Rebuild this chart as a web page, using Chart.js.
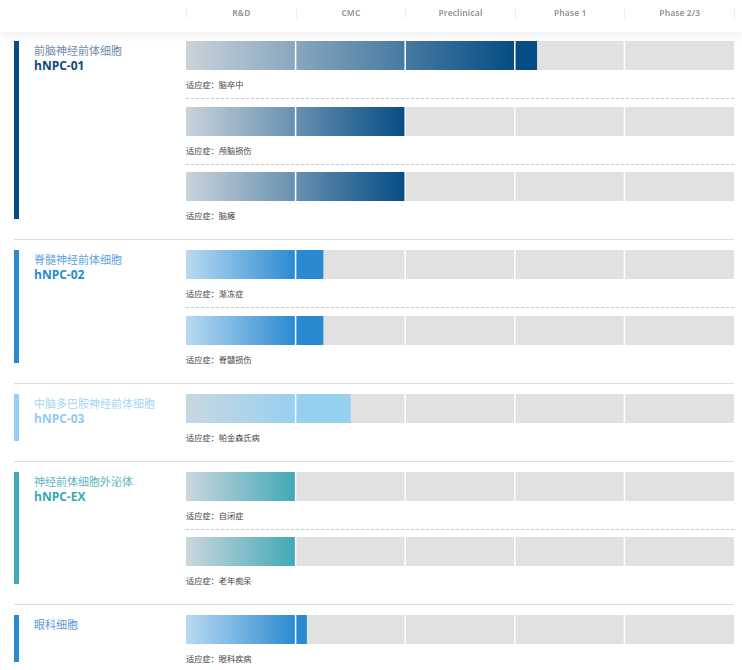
<!DOCTYPE html>
<html>
<head>
<meta charset="utf-8">
<script src="https://cdn.jsdelivr.net/npm/chart.js@4"></script>
<style>
    body { margin: 0; width: 742px; height: 670px; overflow: hidden; background: #fff;
        font-family: "Open Sans", "Noto Sans CJK SC", sans-serif; }
    #header { position: relative; height: 32px; background: #fff; box-shadow: 0 3px 10px rgba(0,0,0,0.07); z-index: 2; }
    .phase { position: absolute; top: 8px; height: 10px; line-height: 10px; text-align: center;
        font-size: 8.5px; font-weight: 700; color: #9c9c9c; border-left: 1px solid #ececec; box-sizing: border-box; }
    .phase.last { border-right: 1px solid #ececec; }
    .group { position: relative; }
    .stripe { position: absolute; left: 14px; width: 5px; }
    .title { position: absolute; left: 34px; }
    .title .cn { font-family: "Noto Sans CJK SC", sans-serif; font-size: 11px; line-height: 15px; }
    .title .code { font-size: 12px; font-weight: 700; line-height: 15px; }
    .row { margin-left: 186px; width: 548px; }
    .row canvas { display: block; width: 548px; height: 29px; }
    .ind { height: 28px; line-height: 28px; font-size: 8.2px; color: #444;
        font-family: "Noto Sans CJK SC", sans-serif; }
    .dash { height: 1px; background: repeating-linear-gradient(90deg, #c9c9c9 0 3px, transparent 3px 5px); }
    .sep { margin-left: 14px; width: 720px; height: 1px; background: #dcdcdc; }
</style>
</head>
<body>
<div id="header"></div>
<div id="groups"></div>

<script>
const phases = ['R&D', 'CMC', 'Preclinical', 'Phase 1', 'Phase 2/3'];
const groupNames = ['前脑神经前体细胞', '脊髓神经前体细胞', '中脑多巴胺神经前体细胞', '神经前体细胞外泌体', '眼科细胞'];
const groupCodes = ['hNPC-01', 'hNPC-02', 'hNPC-03', 'hNPC-EX', ''];
const rowGroup = [0, 0, 0, 1, 1, 2, 3, 3, 4];
const indications = ['脑卒中', '颅脑损伤', '脑瘫', '渐冻症', '脊髓损伤', '帕金森氏病', '自闭症', '老年痴呆', '眼科疾病'];
const progress = [3.2, 2, 2, 1.25, 1.25, 1.5, 1, 1, 1.1];

// colours per group
const styles = [
    { start: '#c9d3db', main: '#054d84', title: '#6f8ba7', code: '#0b4a7e' },
    { start: '#badaf2', main: '#2a8ad0', title: '#5fa3dc', code: '#2a8ad0' },
    { start: '#c9d8e1', main: '#96d0f0', title: '#a5d6f2', code: '#8fcdee' },
    { start: '#ccd6dd', main: '#40a9b6', title: '#62b6c0', code: '#3aa8b5' },
    { start: '#badaf2', main: '#2a8ad0', title: '#5a9ad8', code: '#2a8ad0' }
];

const COL_W = 548 / phases.length;
const header = document.getElementById('header');
phases.forEach((p, i) => {
    const d = document.createElement('div');
    d.className = 'phase' + (i === phases.length - 1 ? ' last' : '');
    d.style.left = (186 + i * COL_W) + 'px';
    d.style.width = (COL_W + (i === phases.length - 1 ? 1 : 0)) + 'px';
    d.textContent = p;
    header.appendChild(d);
});

// white dividers between the phase columns
const dividers = {
    id: 'dividers',
    afterDatasetsDraw(chart) {
        const { ctx, chartArea, scales } = chart;
        ctx.save();
        ctx.strokeStyle = '#fff';
        ctx.lineWidth = 1.5;
        for (let i = 1; i < phases.length; i++) {
            const x = scales.x.getPixelForValue(i);
            ctx.beginPath();
            ctx.moveTo(x, chartArea.top);
            ctx.lineTo(x, chartArea.bottom);
            ctx.stroke();
        }
        ctx.restore();
    }
};

function makeChart(canvas, value, style) {
    const done = Math.floor(value);
    return new Chart(canvas, {
        type: 'bar',
        data: {
            labels: [''],
            datasets: [
                {
                    data: [done],
                    backgroundColor: (c) => {
                        const chart = c.chart;
                        if (!chart.chartArea) return style.main;
                        const x = chart.scales.x;
                        const g = chart.ctx.createLinearGradient(x.getPixelForValue(0), 0, x.getPixelForValue(done), 0);
                        g.addColorStop(0, style.start);
                        g.addColorStop(1, style.main);
                        return g;
                    }
                },
                { data: [value - done], backgroundColor: style.main },
                { data: [phases.length - value], backgroundColor: '#e1e1e1' }
            ]
        },
        options: {
            indexAxis: 'y',
            responsive: false,
            animation: false,
            layout: { padding: 0 },
            datasets: { bar: { barPercentage: 1, categoryPercentage: 1, borderWidth: 0 } },
            scales: {
                x: { stacked: true, min: 0, max: phases.length, display: false },
                y: { stacked: true, display: false }
            },
            plugins: { legend: { display: false }, tooltip: { enabled: false } }
        },
        plugins: [dividers]
    });
}

const container = document.getElementById('groups');
groupNames.forEach((name, g) => {
    const st = styles[g];
    const rows = rowGroup.map((v, i) => v === g ? i : -1).filter(i => i >= 0);
    const grp = document.createElement('div');
    grp.className = 'group';
    grp.style.paddingTop = (g === 0 ? 9 : 10) + 'px';
    container.appendChild(grp);

    const top = g === 0 ? 9 : 10;
    const stripe = document.createElement('div');
    stripe.className = 'stripe';
    stripe.style.top = top + 'px';
    stripe.style.height = ((rows.length - 1) * 65.5 + 47) + 'px';
    stripe.style.background = st.main;
    grp.appendChild(stripe);

    const title = document.createElement('div');
    title.className = 'title';
    title.style.top = (top + 2) + 'px';
    title.innerHTML = `<div class="cn" style="color:${st.title}">${name}</div>` +
        (groupCodes[g] ? `<div class="code" style="color:${st.code}">${groupCodes[g]}</div>` : '');
    grp.appendChild(title);

    rows.forEach((r, k) => {
        const row = document.createElement('div');
        row.className = 'row';
        const cv = document.createElement('canvas');
        cv.width = 548;
        cv.height = 29;
        row.appendChild(cv);
        const ind = document.createElement('div');
        ind.className = 'ind';
        ind.textContent = '适应症：' + indications[r];
        row.appendChild(ind);
        if (k < rows.length - 1) {
            const d = document.createElement('div');
            d.className = 'dash';
            d.style.marginBottom = '7.5px';
            row.appendChild(d);
        } else {
            row.style.paddingBottom = '10px';
        }
        grp.appendChild(row);
        makeChart(cv, progress[r], st);
    });

    if (g < groupNames.length - 1) {
        const sep = document.createElement('div');
        sep.className = 'sep';
        container.appendChild(sep);
    }
});
</script>
</body>
</html>
